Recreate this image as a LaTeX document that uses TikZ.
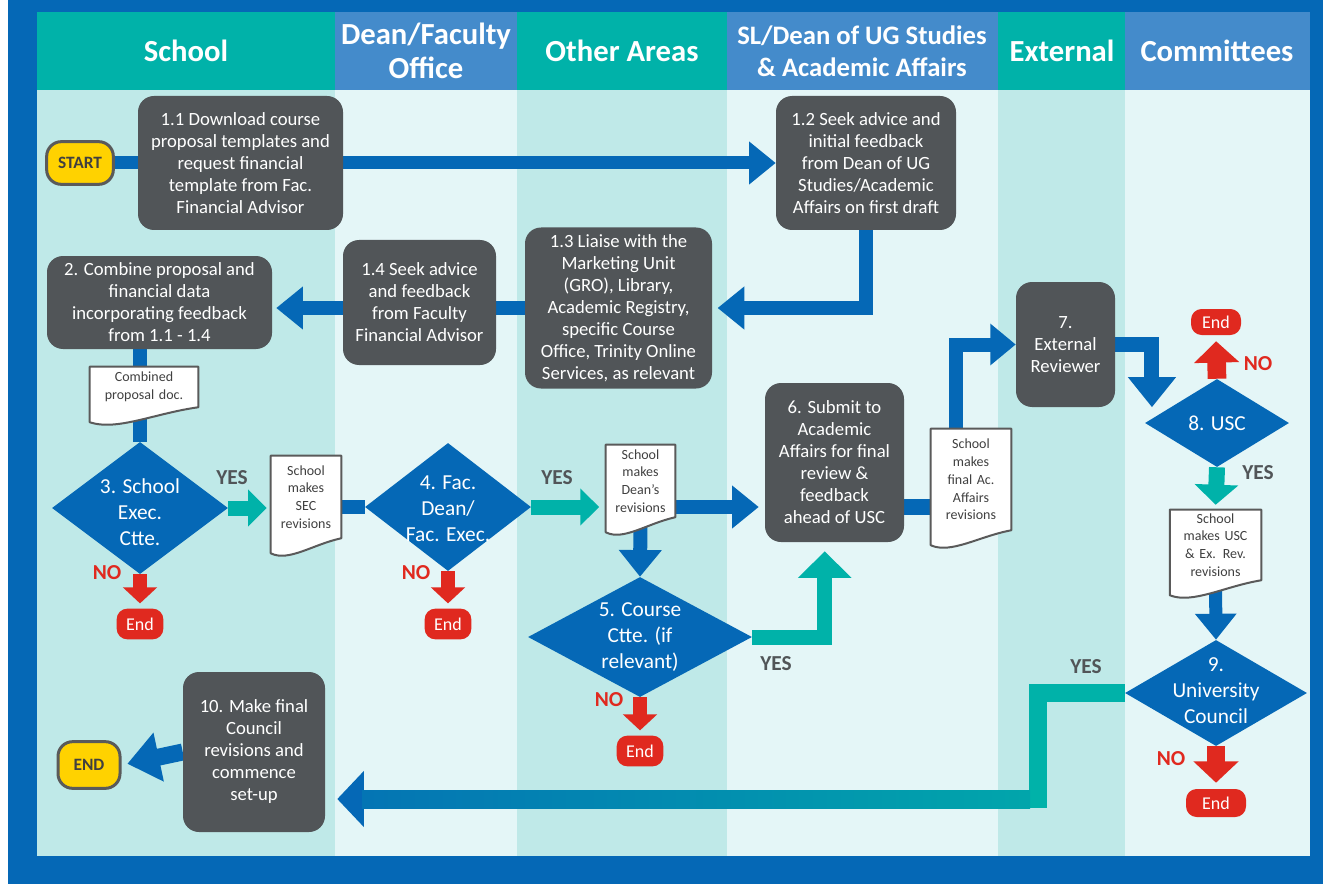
\documentclass[tikz,border=0pt]{standalone}
\usepackage{fontspec}
\setmainfont{Carlito}
\usetikzlibrary{arrows.meta,shapes.geometric,calc}

\pgfdeclarelayer{lanes}
\pgfdeclarelayer{links}
\pgfdeclarelayer{paper}
\pgfsetlayers{lanes,links,paper,main}

\definecolor{frameblue}{RGB}{5,104,182}
\definecolor{headteal}{RGB}{0,178,169}
\definecolor{headblue}{RGB}{68,139,203}
\definecolor{laneteal}{RGB}{191,233,232}
\definecolor{lanepale}{RGB}{228,246,247}
\definecolor{boxgray}{RGB}{81,85,88}
\definecolor{flowteal}{RGB}{0,178,169}
\definecolor{stopred}{RGB}{224,41,31}
\definecolor{startyellow}{RGB}{255,210,0}
\definecolor{doctext}{RGB}{64,64,64}
\definecolor{docline}{RGB}{90,90,90}

\pgfdeclarehorizontalshading{yesfade}{100bp}{color(0bp)=(frameblue); color(12bp)=(frameblue); color(88bp)=(flowteal); color(100bp)=(flowteal)}

\newcommand\lanefont{\bfseries\fontsize{23}{25}\selectfont}
\newcommand\stepfont{\fontsize{14}{16.5}\selectfont}
\newcommand\paperfont{\fontsize{10.5}{13.3}\selectfont}
\newcommand\askfont{\fontsize{16}{19.5}\selectfont}
\newcommand\answerfont{\bfseries\fontsize{16}{18}\selectfont}

\tikzset{every picture/.style={line width=0.75pt}}
\tikzset{
  lanehead/.style={text=white, align=center, font=\lanefont, inner sep=0pt},
  stepbox/.style={rectangle, rounded corners=12pt, fill=boxgray, text=white, align=center, font=\stepfont, inner sep=0pt},
  paperbox/.style={rectangle, text=doctext, align=center, font=\paperfont, inner sep=0pt},
  choice/.style={diamond, fill=frameblue, inner sep=0pt},
  choicetext/.style={text=white, align=center, font=\askfont, inner sep=0pt},
  pill/.style={rectangle, rounded corners=11pt, draw=docline, line width=2.25pt, fill=startyellow, text=doctext, font=\bfseries\fontsize{13}{15}\selectfont, inner sep=0pt},
  endpill/.style={rectangle, rounded corners=8pt, fill=stopred, text=white, font=\fontsize{13.5}{15}\selectfont, minimum width=35pt, minimum height=23pt, inner sep=0pt},
  yeslabel/.style={text=boxgray, font=\answerfont, inner sep=0pt},
  nolabel/.style={text=stopred, font=\answerfont, inner sep=0pt},
  blueflow/.style={draw=frameblue, line width=10.5pt, line join=miter},
  tealflow/.style={draw=flowteal, line width=11.25pt, line join=miter},
  redflow/.style={draw=stopred, line width=10.5pt},
  headM/.style={-{Triangle[length=20pt,width=31pt]}},
  headS/.style={-{Triangle[length=14pt,width=27pt]}},
  headL/.style={-{Triangle[length=20pt,width=39pt]}},
  headR/.style={-{Triangle[length=12pt,width=25pt]}},
  headRL/.style={-{Triangle[length=16pt,width=33pt]}}
}

\begin{document}
\begin{tikzpicture}[x=0.75pt,y=0.75pt,yscale=-1,xscale=1]
\useasboundingbox (0,0) rectangle (1323,884);

%Frame and swim lanes
\begin{pgfonlayer}{lanes}
\fill[white] (0,0) rectangle (1323,884);
\fill[frameblue] (8,0) rectangle (1323,884);
\foreach \xa/\xb/\hc/\bc in {37/335/headteal/laneteal, 335/517/headblue/lanepale, 517/727/headteal/laneteal, 727/998/headblue/lanepale, 998/1125/headteal/laneteal, 1125/1310/headblue/lanepale}
{
  \fill[\bc] (\xa,90) rectangle (\xb,856);
  \fill[\hc] (\xa,12) rectangle (\xb,90);
}
\end{pgfonlayer}

% Lane headers
\node[lanehead] (hSchool) at (186,51) {School};
\node[lanehead] (hDean) at (426,51) {Dean/Faculty\\Office};
\node[lanehead] (hOther) at (622,51) {Other Areas};
\node[lanehead, font=\bfseries\fontsize{20}{24}\selectfont] (hAcad) at (862,51) {SL/Dean of UG Studies\\\& Academic Affairs};
\node[lanehead] (hExt) at (1062,51) {External};
\node[lanehead] (hComm) at (1217,51) {Committees};

% Start / end
\node[pill, minimum width=50pt, minimum height=32pt] (start) at (80,163) {START};
\node[pill, minimum width=46.5pt, minimum height=35pt] (stop) at (89,765) {END};

% Steps
\node[stepbox, minimum width=153.75pt, minimum height=100.5pt] (b11) at (240.5,163) {1.1 Download course\\proposal templates and\\request financial\\template from Fac.\\Financial Advisor};
\node[stepbox, minimum width=135pt, minimum height=100.5pt] (b12) at (866,163) {1.2 Seek advice and\\initial feedback\\from Dean of UG\\Studies/Academic\\Affairs on first draft};
\node[stepbox, minimum width=140.25pt, minimum height=120.75pt] (b13) at (618.5,308) {1.3 Liaise with the\\Marketing Unit\\(GRO), Library,\\Academic Registry,\\specific Course\\Office, Trinity Online\\Services, as relevant};
\node[stepbox, minimum width=114.75pt, minimum height=93.75pt] (b14) at (419.5,302.5) {1.4 Seek advice\\and feedback\\from Faculty\\Financial Advisor};
\node[stepbox, minimum width=168.75pt, minimum height=69.75pt] (b2) at (159.5,302.5) {2. Combine proposal and\\financial data\\incorporating feedback\\from 1.1 - 1.4};
\node[stepbox, minimum width=104.25pt, minimum height=119.25pt] (b6) at (834.5,462.5) {6. Submit to\\Academic\\Affairs for final\\review \&\\feedback\\ahead of USC};
\node[stepbox, minimum width=74.25pt, minimum height=93.75pt] (b7) at (1065.5,344.5) {7.\\External\\Reviewer};
\node[stepbox, minimum width=106.5pt, minimum height=120pt] (b10) at (254,752) {10. Make final\\Council\\revisions and\\commence\\set-up};

% Documents
\node[paperbox, text width=81pt, minimum height=30pt] (docA) at (144,387) {Combined\\proposal doc.};
\node[paperbox, text width=52.5pt, minimum height=61.5pt] (docSEC) at (306,497) {School\\makes\\SEC\\revisions};
\node[paperbox, text width=51.75pt, minimum height=54pt] (docDean) at (640.5,481) {School\\makes\\Dean’s\\revisions};
\node[paperbox, text width=60pt, minimum height=75.75pt] (docAc) at (971,479.5) {School\\makes\\final Ac.\\Affairs\\revisions};
\node[paperbox, text width=68.25pt, minimum height=52.5pt] (docUSC) at (1215.5,545) {School\\makes USC\\\& Ex. Rev.\\revisions};

% Decisions
\node[choice, minimum width=132pt, minimum height=99pt, label={[choicetext, yshift=-3pt]center:{3. School\\Exec.\\Ctte.}}] (d3) at (140,508) {};
\node[choice, minimum width=124.5pt, minimum height=96pt, label={[choicetext, yshift=-1pt]center:{4. Fac.\\Dean/\\Fac. Exec.}}] (d4) at (448,507) {};
\node[choice, minimum width=168pt, minimum height=90pt, label={[choicetext]center:{5. Course\\Ctte. (if\\relevant)}}] (d5) at (640,637) {};
\node[choice, minimum width=108pt, minimum height=66pt, label={[choicetext]center:{8. USC}}] (d8) at (1217,423) {};
\node[choice, minimum width=136.5pt, minimum height=79.5pt, label={[choicetext, yshift=2pt]center:{9.\\University\\Council}}] (d9) at (1216,693) {};

% End points
\node[endpill] (end3) at (140,624) {End};
\node[endpill] (end4) at (448,624) {End};
\node[endpill] (end5) at (640,751) {End};
\node[endpill, minimum width=37.5pt, minimum height=19.5pt] (end8) at (1216,322) {End};
\node[endpill, minimum width=45pt, minimum height=21pt] (end9) at (1216,803) {End};

% Answers
\node[yeslabel] (yes3) at (232,478) {YES};
\node[yeslabel] (yes4) at (557,478) {YES};
\node[yeslabel] (yes5) at (776,664) {YES};
\node[yeslabel] (yes8) at (1258,473) {YES};
\node[yeslabel] (yes9) at (1086,667) {YES};
\node[nolabel] (no3) at (107,573) {NO};
\node[nolabel] (no4) at (416,573) {NO};
\node[nolabel] (no5) at (609,700) {NO};
\node[nolabel] (no8) at (1258,364) {NO};
\node[nolabel] (no9) at (1171,759) {NO};

\coordinate (yesbend) at (1038,799);

% Document outlines
\begin{pgfonlayer}{paper}
\foreach \d in {docA,docSEC,docDean,docAc,docUSC}
  \draw[draw=docline, fill=white, line width=1.5pt, line join=round]
    (\d.north west) -- (\d.north east) -- (\d.south east)
    .. controls ($(\d.south east)!0.4!(\d.south west)+(0,6)$) and ($(\d.south east)!0.75!(\d.south west)+(0,24)$) .. ($(\d.south west)+(0,15)$) -- cycle;
\end{pgfonlayer}

% Connectors
\begin{pgfonlayer}{links}
\draw[blueflow, line width=9.75pt, headM] (start.east) -- (b12.west);
\draw[blueflow, headM, shorten >=4pt] (b12.south) |- (b13.east);
\draw[blueflow, line width=11pt, headM, shorten >=3pt] (b13.west) -- (b2.east |- b13.west);
\draw[blueflow] (b2.south -| d3.north) -- (d3.north);
\draw[tealflow, headS, shorten >=3pt] (d3.east) -- (d3.east -| docSEC.west);
\draw[blueflow] (docSEC.east |- d4.west) -- (d4.west);
\draw[tealflow, headS, shorten >=5pt] (d4.east) -- (d4.east -| docDean.west);
\draw[blueflow, headM, shorten >=4.5pt] (docDean.east |- d4.east) -- (b6.west |- d4.east);
\draw[blueflow, headM] (docDean.south) -- (d5.north);
\draw[tealflow, headL, shorten >=6.75pt] (d5.east) -| ($(b6.south west)!0.43!(b6.south east)$);
\draw[blueflow, line width=12pt] (b6.east |- d4.east) -- (docAc.west |- d4.east);
\draw[blueflow, -{Triangle[length=19pt,width=30pt]}] ($(docAc.north west)!0.31!(docAc.north east)$) |- (b7.west);
\draw[blueflow, line width=11.25pt, -{Triangle[length=22.5pt,width=34.5pt]}, shorten >=8.5pt] (b7.east) -| ($(d8.north)!0.9!(d8.west)$);
\draw[redflow, line width=14pt, headRL, shorten >=4.5pt] (d8.north) -- (end8.south);
\draw[tealflow, line width=12pt, -{Triangle[length=15pt,width=32pt]}, shorten >=3.75pt] (d8.south) -- (docUSC.north);
\draw[blueflow, line width=9.75pt, -{Triangle[length=19.5pt,width=30pt]}] (docUSC.south) -- (d9.north);
\draw[redflow, line width=14pt, headRL, shorten >=4.5pt] (d9.south) -- (end9.north);
\draw[tealflow, line width=13.5pt, -{Triangle[length=20pt,width=41pt,color=frameblue]}, shorten >=9pt] (d9.west) -| (yesbend) -- (b10.east |- yesbend);
\shade[shading=yesfade] (362,790) rectangle (1030,808);
\draw[blueflow, line width=12.75pt, -{Triangle[length=24pt,width=36pt]}, shorten >=4.5pt] (b10.west) -- (stop.east);
\draw[redflow, headR, shorten >=3.75pt] (d3.south) -- (end3.north);
\draw[redflow, headR, shorten >=3.75pt] (d4.south) -- (end4.north);
\draw[redflow, headR, shorten >=3.75pt] (d5.south) -- (end5.north);
\end{pgfonlayer}

\end{tikzpicture}
\end{document}
